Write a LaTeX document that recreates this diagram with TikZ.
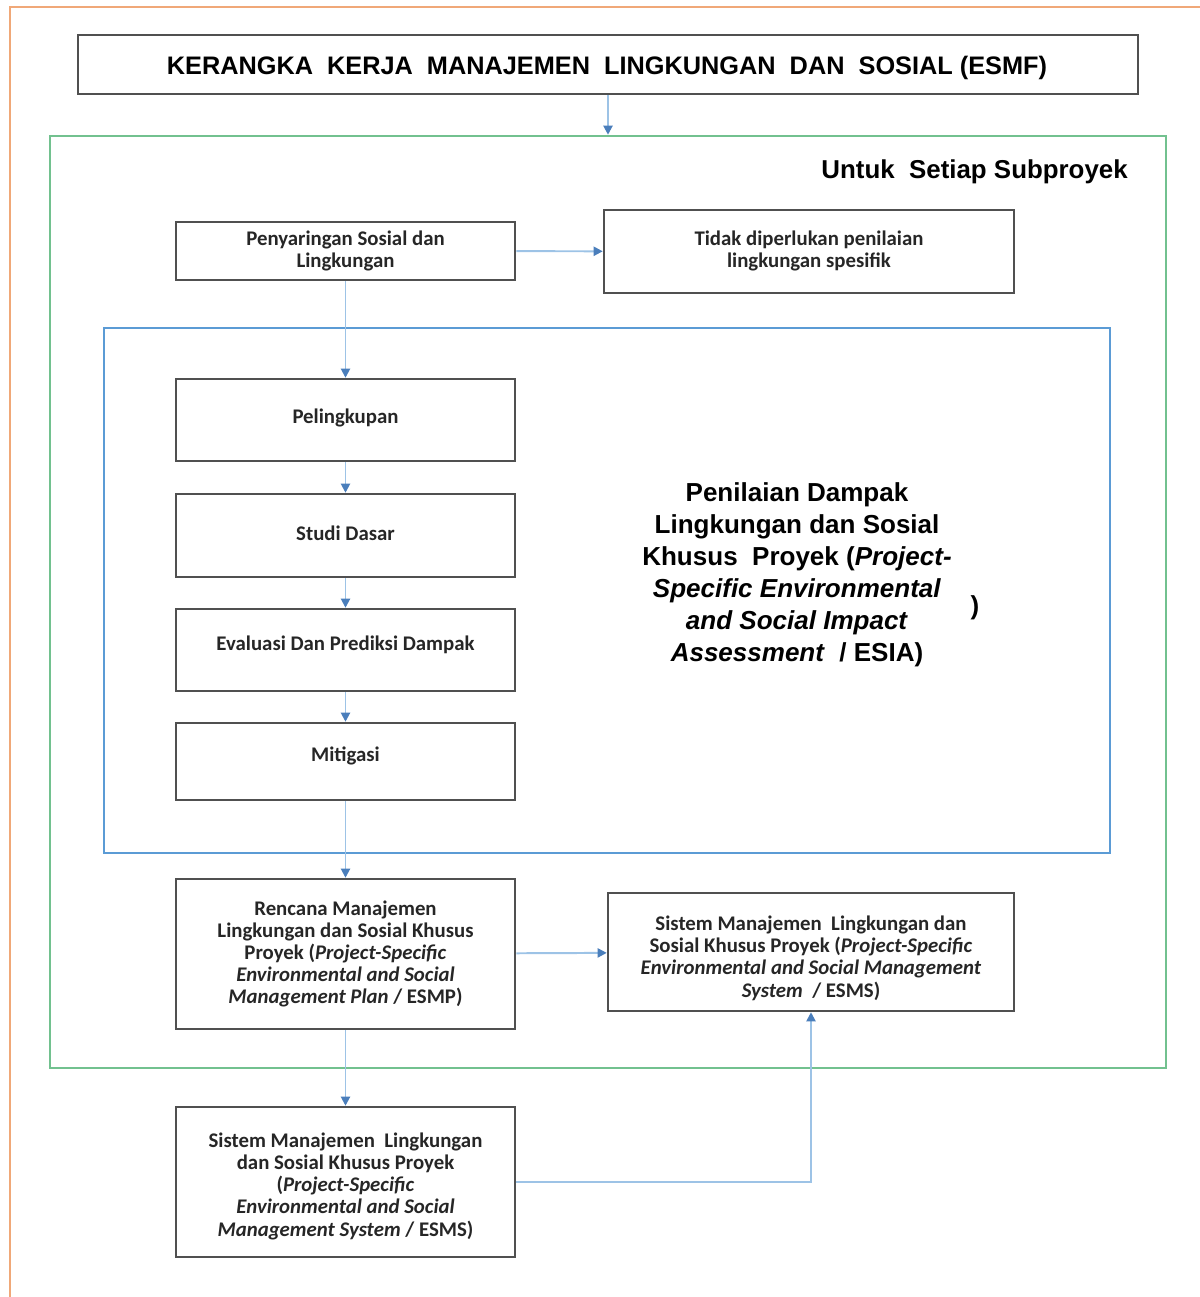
\documentclass[tikz,border=0pt]{standalone}
\usepackage{fontspec}
\setmainfont{Carlito}
\newfontfamily\arialf{Liberation Sans}
\usetikzlibrary{arrows.meta}
\definecolor{framecol}{HTML}{F0A878}
\definecolor{boxcol}{HTML}{505050}
\definecolor{greencol}{HTML}{72C18F}
\definecolor{bluecol}{HTML}{5B9BD5}
\definecolor{linecol}{HTML}{9DC3E6}
\definecolor{tipcol}{HTML}{4A7EBB}
\tikzset{
  boxtext/.style={align=center, inner sep=0pt,
    font=\bfseries\fontsize{14.8}{15.8}\selectfont, text=black!85},
  stepbox/.style={draw=boxcol, line width=1.8pt, boxtext},
  frame/.style={line width=1.8pt, inner sep=0pt},
  arr/.style={draw=linecol, line width=1.4pt,
    -{Triangle[length=6.5pt,width=6.5pt,color=tipcol]}},
}
\begin{document}
\begin{tikzpicture}[x=0.025cm,y=-0.025cm]
\useasboundingbox (0,0) rectangle (1200,1297);
% outer frame
\draw[framecol, line width=1.5pt] (10,1297) -- (10,7) -- (1200,7);
% containers
\node[frame, draw=greencol, minimum width=1116*0.025cm, minimum height=932*0.025cm] (green) at (608,602) {};
\node[frame, draw=bluecol, line width=1.5pt, minimum width=1006*0.025cm, minimum height=525*0.025cm] (blue) at (607,590.5) {};
% title
\node[stepbox, line width=2pt, minimum width=1060*0.025cm, minimum height=59*0.025cm] (title) at (608,64.5) {};
\node[inner sep=0pt, font=\arialf\bfseries\fontsize{18}{22}\selectfont] (titletext) at (607,68)
  {KERANGKA\ \ KERJA\ \ MANAJEMEN\ \ LINGKUNGAN\ \ DAN\ \ SOSIAL (ESMF)};
\node[anchor=east, inner sep=0pt, font=\arialf\bfseries\fontsize{18.4}{22}\selectfont] (untuk) at (1128,172)
  {Untuk\ \ Setiap Subproyek};
% boxes
\node[stepbox, minimum width=339*0.025cm, minimum height=58*0.025cm] (pen) at (345.5,251)
  {\raisebox{-4pt}{\shortstack{Penyaringan Sosial dan\\Lingkungan}}};
\node[stepbox, minimum width=410*0.025cm, minimum height=83*0.025cm] (tidak) at (809,251.5)
  {\raisebox{3pt}{\shortstack{Tidak diperlukan penilaian\\lingkungan spesifik}}};
\node[stepbox, minimum width=339*0.025cm, minimum height=82*0.025cm] (pel) at (345.5,420)
  {\raisebox{5.5pt}{Pelingkupan}};
\node[stepbox, minimum width=339*0.025cm, minimum height=83*0.025cm] (studi) at (345.5,535.5)
  {\raisebox{3.5pt}{Studi Dasar}};
\node[stepbox, minimum width=339*0.025cm, minimum height=82*0.025cm] (eval) at (345.5,650)
  {\raisebox{9.5pt}{Evaluasi Dan Prediksi Dampak}};
\node[stepbox, minimum width=339*0.025cm, minimum height=77*0.025cm] (mit) at (345.5,761.5)
  {\raisebox{10.5pt}{Mitigasi}};
\node[stepbox, minimum width=339*0.025cm, minimum height=150*0.025cm] (ren) at (345.5,954)
  {Rencana Manajemen\\Lingkungan dan Sosial Khusus\\Proyek (\textit{Project-Specific}\\\textit{Environmental and Social}\\\textit{Management Plan} / ESMP)};
\node[stepbox, minimum width=406*0.025cm, minimum height=118*0.025cm] (sisR) at (811,952) {};
\node[boxtext] (sisRtext) at (811,958)
  {Sistem Manajemen\ \ Lingkungan dan\\Sosial Khusus Proyek (\textit{Project-Specific}\\\textit{Environmental and Social Management}\\\textit{System}\ \ / ESMS)};
\node[stepbox, minimum width=339*0.025cm, minimum height=150*0.025cm] (sisB) at (345.5,1182) {};
\node[boxtext] (sisBtext) at (345.5,1186)
  {Sistem Manajemen\ \ Lingkungan\\dan Sosial Khusus Proyek\\(\textit{Project-Specific}\\\textit{Environmental and Social}\\\textit{Management System} / ESMS)};
% ESIA text
\node[align=center, inner sep=0pt, font=\arialf\bfseries\fontsize{18.5}{22.8}\selectfont] (esia) at (797,575)
  {Penilaian Dampak\\Lingkungan dan Sosial\\Khusus\ \ Proyek (\textit{Project-}\\\textit{Specific Environmental}\\\textit{and Social Impact}\\\textit{Assessment}\ \ / ESIA)};
\node[inner sep=0pt, font=\arialf\bfseries\fontsize{18.5}{22}\selectfont] (paren) at (975,608) {)};
% connectors
\draw[arr] (title) -- (green.north);
\draw[arr] (pen) -- (tidak);
\draw[arr] (pen) -- (pel);
\draw[arr] (pel) -- (studi);
\draw[arr] (studi) -- (eval);
\draw[arr] (eval) -- (mit);
\draw[arr] (mit) -- (ren);
\draw[arr] (ren) -- (sisR);
\draw[arr] (ren) -- (sisB);
\draw[arr] (sisB.east) -| (sisR.south);
\end{tikzpicture}
\end{document}
